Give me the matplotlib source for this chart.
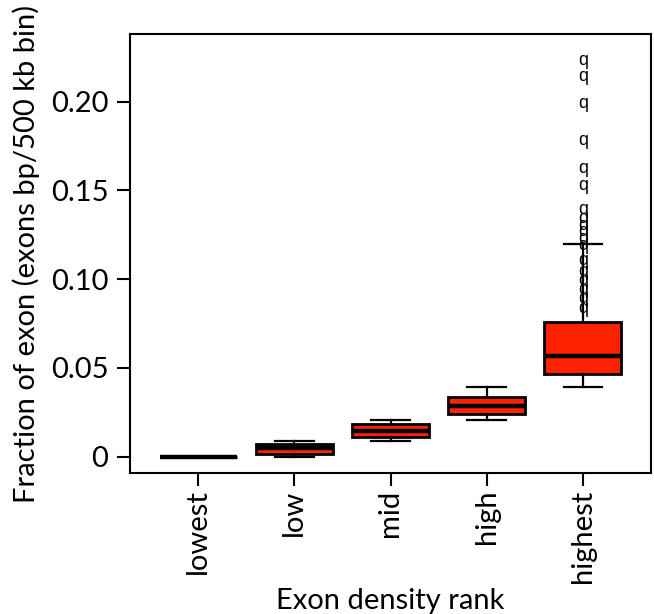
import matplotlib
matplotlib.use("Agg")
import matplotlib.pyplot as plt

plt.rcParams['font.family'] = ['Lato', 'DejaVu Sans']

# box stats (fraction of exon per 500 kb bin)
ranks = ['lowest', 'low', 'mid', 'high', 'highest']
q1 = [0.0, 0.0015, 0.0109, 0.0241, 0.0464]
medians = [0.0, 0.0047, 0.0146, 0.0288, 0.0567]
q3 = [0.0, 0.0072, 0.0183, 0.0335, 0.0761]
whis_lo = [0.0, 0.0, 0.0088, 0.0207, 0.0391]
whis_hi = [0.0, 0.0088, 0.0207, 0.0391, 0.1198]

# outliers of the "highest" group, drawn as 'q' characters
outliers_highest = [0.2235, 0.2141, 0.1991, 0.1784, 0.1624, 0.1530, 0.1390,
                    0.1344, 0.1305, 0.1267, 0.1230, 0.1192, 0.1108, 0.1042,
                    0.0995, 0.0939, 0.0892, 0.0836]

yticks = [0, 0.05, 0.10, 0.15, 0.20]
ytick_labels = ['0', '0.05', '0.10', '0.15', '0.20']

box_color = '#ff2200'

fig = plt.figure(figsize=(6.54, 6.14), dpi=100)
ax = fig.add_axes([130 / 654, 1 - 473.3 / 614, 521 / 654, 439 / 614])

stats = []
for i, name in enumerate(ranks):
    stats.append({'label': name, 'q1': q1[i], 'med': medians[i], 'q3': q3[i],
                  'whislo': whis_lo[i], 'whishi': whis_hi[i], 'fliers': []})

ax.bxp(stats, positions=range(1, 6), widths=0.8, capwidths=0.4,
       patch_artist=True, showfliers=False,
       boxprops=dict(facecolor=box_color, edgecolor='black', linewidth=2),
       medianprops=dict(color='black', linewidth=3.2),
       whiskerprops=dict(color='black', linewidth=1.6),
       capprops=dict(color='black', linewidth=1.6))

for v in outliers_highest:
    ax.text(5, v, 'q', ha='center', va='center', fontsize=13,
            family='Liberation Sans', color='black')

ax.set_xlim(0.29, 5.71)
ax.set_ylim(-0.0094, 0.238)

ax.set_yticks(yticks)
ax.set_yticklabels(ytick_labels)
ax.set_xticks(range(1, 6))
ax.set_xticklabels(ranks, rotation=90)

for s in ax.spines.values():
    s.set_linewidth(1.5)
ax.tick_params(axis='both', length=9.5, width=1.5, labelsize=21)
ax.tick_params(axis='y', pad=6)
ax.tick_params(axis='x', pad=2)

ax.set_xlabel('Exon density rank', fontsize=21)
ax.xaxis.set_label_coords(0.5, -0.262)
ax.set_ylabel('Fraction of exon (exons bp/500 kb bin)', fontsize=21)
ax.yaxis.set_label_coords(-0.173, 0.5)

fig.savefig('out.png', dpi=100)
